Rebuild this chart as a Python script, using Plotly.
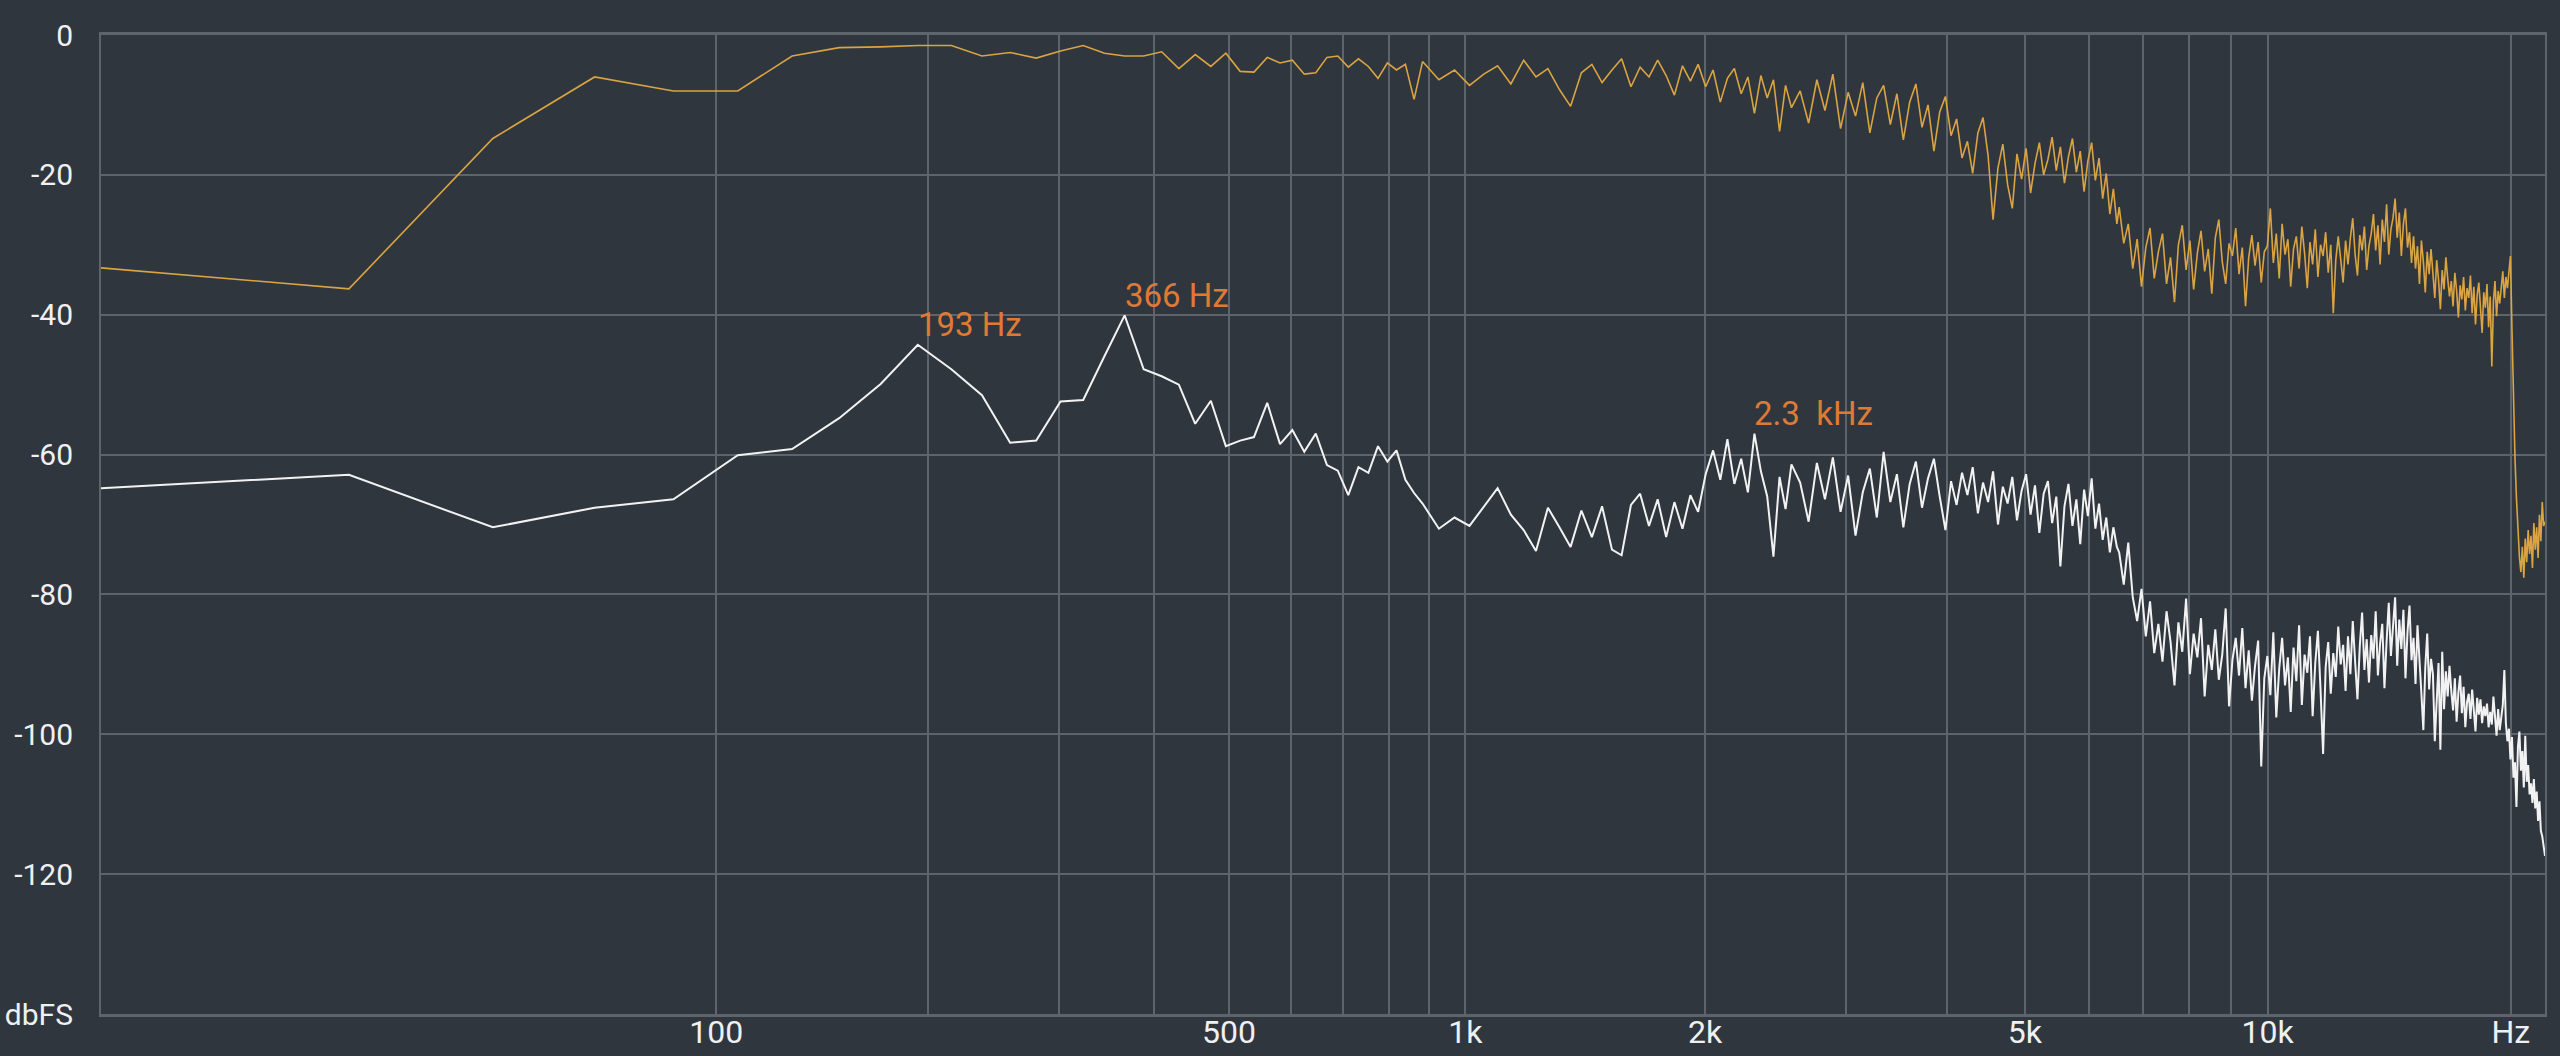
import numpy as np
import plotly.graph_objects as go

# ---------------- data ----------------
SAMPLE_RATE = 44100
FFT_SIZE = 2048
AXIS_OFFSET_HZ = 21.0          # analyzer's frequency axis: log10(f + offset)

bins_low = list(range(0, 41))
bins_mid = list(range(41, 120, 2))
bins_upper = list(range(122, 303, 3))
bins_high = list(range(304, 1025, 4))

# yellow spectrum (dBFS)
signal_db_low = [
    -33.3, -36.3, -14.8, -6.0, -8.0, -8.0, -3.0, -1.8, -1.7, -1.5,
    -1.5, -3.0, -2.5, -3.3, -2.3, -1.5, -2.6, -3.0, -3.0, -2.4,
    -4.8, -2.8, -4.5, -2.6, -5.2, -5.3, -3.2, -4.0, -3.6, -5.6,
    -5.4, -3.2, -3.0, -4.6, -3.4, -4.5, -6.2, -4.0, -5.0, -4.2,
    -9.2]
signal_db_mid = [
    -3.8, -6.4, -5.0, -7.2, -5.6, -4.4, -7.0, -3.6, -6.0, -4.8,
    -7.8, -10.2, -5.4, -4.2, -6.8, -5.0, -3.4, -7.4, -4.6, -6.0,
    -3.6, -5.8, -8.6, -4.4, -6.6, -4.2, -7.4, -5.0, -9.6, -6.2,
    -4.8, -8.4, -6.0, -11.2, -5.8, -9.0, -6.4, -13.8, -7.2, -10.4]
signal_db_upper = [
    -8.0, -12.6, -6.4, -10.8, -5.6, -13.4, -8.2, -11.6, -6.8, -14.0,
    -9.0, -7.2, -12.8, -8.4, -15.0, -9.6, -7.0, -13.2, -10.0, -16.6,
    -11.0, -8.8, -14.4, -12.0, -17.6, -15.2, -19.8, -14.0, -11.8, -17.2,
    -26.4, -19.0, -15.6, -21.4, -24.8, -17.0, -20.6, -16.2, -22.6, -18.4,
    -15.4, -20.0, -17.8, -14.6, -19.4, -16.0, -21.2, -17.4, -14.8, -19.6,
    -16.6, -22.4, -18.0, -15.4, -20.8, -17.6, -23.4, -19.8, -25.6, -22.0,
    -27.0]
signal_db_high = [
    -24.6, -29.8, -27.0, -33.4, -29.2, -36.0, -30.4, -27.6, -34.8, -31.0,
    -28.4, -35.6, -31.8, -38.2, -30.0, -27.2, -33.6, -29.4, -36.4, -31.2,
    -28.0, -33.8, -30.6, -37.0, -29.0, -26.4, -32.4, -35.6, -29.8, -31.6,
    -27.6, -34.2, -30.4, -38.8, -31.8, -28.6, -33.0, -29.6, -35.4, -31.0,
    -30.2, -24.8, -32.6, -28.4, -34.8, -27.0, -31.4, -29.2, -36.0, -30.6,
    -28.8, -33.4, -27.4, -31.2, -36.2, -29.6, -32.8, -27.8, -34.6, -30.0,
    -31.6, -28.2, -34.0, -30.0, -39.8, -32.2, -28.8, -31.8, -35.4, -29.4,
    -32.8, -29.0, -26.2, -31.4, -34.4, -28.6, -30.8, -27.4, -33.6, -30.2,
    -28.4, -25.6, -30.8, -27.2, -32.8, -26.4, -29.6, -24.2, -31.4, -27.8,
    -26.2, -23.4, -29.0, -25.4, -31.6, -27.0, -24.8, -30.4, -28.2, -32.6,
    -28.8, -33.4, -30.2, -35.6, -29.4, -32.4, -36.8, -31.0, -34.2, -30.6,
    -33.8, -37.6, -32.2, -35.0, -39.2, -33.6, -36.4, -31.8, -34.8, -37.4,
    -35.2, -38.8, -34.0, -36.6, -40.4, -35.8, -37.8, -34.6, -39.4, -36.2,
    -37.6, -34.4, -39.8, -36.0, -41.4, -37.2, -35.4, -38.6, -42.6, -36.8,
    -39.0, -35.6, -41.8, -37.4, -47.4, -38.2, -35.2, -40.2, -36.6, -38.4,
    -35.4, -33.8, -37.6, -34.6, -36.2, -33.2, -31.6, -42.0, -52.0, -60.4,
    -66.2, -71.4, -74.6, -76.8, -73.2, -77.6, -72.0, -75.4, -70.8, -74.2,
    -71.6, -76.2, -69.8, -73.6, -70.4, -74.8, -68.6, -72.4, -66.8, -70.2,
    -69.6]

# white spectrum (dBFS)
noise_db_low = [
    -64.8, -62.9, -70.4, -67.6, -66.4, -60.1, -59.2, -54.8, -49.9, -44.3,
    -47.8, -51.5, -58.3, -58.0, -52.4, -52.2, -45.9, -40.1, -47.8, -48.8,
    -50.0, -55.6, -52.3, -58.8, -58.0, -57.5, -52.6, -58.5, -56.5, -59.6,
    -57.0, -61.5, -62.3, -65.8, -61.8, -62.6, -58.8, -61.0, -59.4, -63.6,
    -65.5]
noise_db_mid = [
    -67.0, -70.6, -69.0, -70.2, -67.4, -64.8, -68.6, -70.8, -73.8, -67.6,
    -70.4, -73.2, -68.0, -71.8, -67.4, -73.6, -74.4, -67.2, -65.6, -70.2,
    -66.4, -71.8, -66.8, -70.6, -65.8, -68.2, -62.8, -59.4, -63.6, -57.8,
    -64.2, -60.6, -65.4, -57.0, -62.4, -66.0, -74.6, -63.2, -67.8, -61.4]
noise_db_upper = [
    -64.0, -69.6, -61.2, -66.4, -60.4, -68.2, -63.0, -71.6, -65.4, -62.0,
    -69.0, -59.6, -66.8, -62.8, -70.4, -64.2, -61.0, -67.6, -63.4, -60.6,
    -66.0, -70.8, -63.8, -67.2, -62.6, -65.8, -61.8, -68.4, -64.0, -66.8,
    -62.4, -70.0, -64.6, -67.0, -63.2, -69.4, -65.2, -62.8, -68.6, -64.4,
    -71.2, -65.6, -63.8, -69.8, -66.0, -76.0, -67.4, -64.2, -70.2, -66.4,
    -72.8, -65.0, -68.8, -63.4, -70.6, -67.0, -72.2, -69.0, -74.0, -70.4,
    -73.2]
noise_db_high = [
    -74.0, -78.6, -72.6, -80.4, -83.8, -79.2, -86.0, -81.0, -88.4, -84.2,
    -89.6, -82.4, -86.8, -93.0, -84.0, -88.2, -80.6, -91.4, -85.6, -89.0,
    -83.4, -94.6, -87.2, -90.8, -85.0, -92.2, -88.6, -82.0, -96.0, -89.4,
    -86.2, -91.6, -84.8, -93.4, -88.0, -95.2, -90.2, -86.6, -104.6, -92.0,
    -88.8, -94.4, -85.4, -97.6, -90.6, -86.2, -93.0, -89.0, -96.8, -87.6,
    -92.4, -84.4, -95.8, -88.6, -91.2, -86.0, -97.4, -89.8, -85.2, -93.6,
    -102.8, -90.4, -86.8, -94.2, -88.4, -91.8, -84.6, -90.0, -87.2, -93.8,
    -86.0, -91.4, -83.8, -89.6, -95.0, -87.4, -82.6, -90.8, -86.4, -92.6,
    -85.8, -89.2, -82.4, -91.6, -87.0, -84.2, -93.4, -86.6, -81.2, -88.8,
    -84.8, -80.4, -90.2, -83.6, -87.8, -82.2, -92.0, -85.4, -81.6, -89.4,
    -86.2, -92.8, -84.4, -88.6, -94.2, -99.4, -90.4, -85.6, -93.6, -89.2,
    -91.4, -101.0, -95.2, -89.8, -102.2, -88.2, -96.4, -91.0, -94.6, -90.2,
    -93.8, -96.6, -92.0, -98.2, -94.0, -91.6, -97.0, -93.2, -99.0, -95.4,
    -94.2, -97.8, -93.6, -96.4, -99.6, -94.8, -97.2, -95.0, -98.4, -96.0,
    -97.4, -95.6, -99.0, -96.8, -98.6, -94.6, -97.8, -100.2, -96.4, -99.4,
    -97.6, -95.8, -90.8, -98.4, -101.0, -99.2, -103.6, -100.4, -106.2, -104.0,
    -110.4, -101.8, -99.6, -105.2, -102.4, -107.6, -100.2, -106.8, -104.4, -108.6,
    -107.0, -109.8, -106.4, -110.6, -108.2, -112.4, -109.6, -113.8, -114.6, -116.4,
    -117.4]

# labelled peaks of the white spectrum
peak_bins = [9, 17, 107]
peak_labels = ["193 Hz", "366 Hz", "2.3\u00a0 kHz"]

# axis ticks
grid_freqs = [100, 200, 300, 400, 500, 600, 700, 800, 900,
              1000, 2000, 3000, 4000, 5000, 6000, 7000, 8000, 9000,
              10000, 20000]
labelled_freqs = {100: "100", 500: "500", 1000: "1k", 2000: "2k",
                  5000: "5k", 10000: "10k", 20000: "Hz"}
db_ticks = [0, -20, -40, -60, -80, -100, -120, -140]
db_labels = ["0", "-20", "-40", "-60", "-80", "-100", "-120", "dbFS"]

# ---------------- styling ----------------
BG = "#30363e"
GRID = "#5d646c"
TEXT = "#eef0f2"
YELLOW = "#d9a441"
WHITE = "#f2f2f2"
ORANGE = "#df7a35"


def to_axis(freq_hz):
    return np.log10(np.asarray(freq_hz, dtype=float) + AXIS_OFFSET_HZ)


bins = np.array(bins_low + bins_mid + bins_upper + bins_high)
freqs = bins * SAMPLE_RATE / FFT_SIZE
signal_db = np.array(signal_db_low + signal_db_mid + signal_db_upper + signal_db_high)
noise_db = np.array(noise_db_low + noise_db_mid + noise_db_upper + noise_db_high)

fig = go.Figure()
fig.add_trace(go.Scatter(x=to_axis(freqs), y=signal_db, mode="lines",
                         line=dict(color=YELLOW, width=1.6), hoverinfo="skip"))
fig.add_trace(go.Scatter(x=to_axis(freqs), y=noise_db, mode="lines",
                         line=dict(color=WHITE, width=2), hoverinfo="skip"))

bin_list = list(bins)
for b, label in zip(peak_bins, peak_labels):
    i = bin_list.index(b)
    fig.add_annotation(x=to_axis(freqs[i]), y=noise_db[i], text=label,
                       showarrow=False, xanchor="left", yanchor="middle",
                       yshift=20, xshift=-2,
                       font=dict(family="Roboto", size=33, color=ORANGE))

fig.update_layout(
    width=2560, height=1056,
    margin=dict(l=101, r=15, t=35, b=42, pad=0),
    paper_bgcolor=BG, plot_bgcolor=BG,
    showlegend=False,
    font=dict(family="Roboto", color=TEXT),
)
fig.update_xaxes(
    range=[float(to_axis(0)), float(to_axis(SAMPLE_RATE / 2))],
    tickmode="array",
    tickvals=list(to_axis(grid_freqs)),
    ticktext=[labelled_freqs.get(f, "") for f in grid_freqs],
    showgrid=True, gridcolor=GRID, gridwidth=1.5,
    showline=True, linecolor=GRID, linewidth=2.5, mirror=True,
    zeroline=False, ticks="", ticklen=0, tickfont=dict(size=32, color=TEXT),
    ticklabelstandoff=-12, automargin=False,
)
fig.update_yaxes(
    range=[-140, 0],
    tickmode="array", tickvals=db_ticks, ticktext=db_labels,
    showgrid=True, gridcolor=GRID, gridwidth=1.5,
    showline=True, linecolor=GRID, linewidth=2, mirror=True,
    zeroline=False, ticks="", ticklen=0, tickfont=dict(size=30, color=TEXT),
    ticklabelstandoff=20, automargin=False,
)

fig.write_html("out.html", include_plotlyjs=True,
               config={"displayModeBar": False},
               post_script="document.body.style.margin='0';document.body.style.overflow='hidden';")
